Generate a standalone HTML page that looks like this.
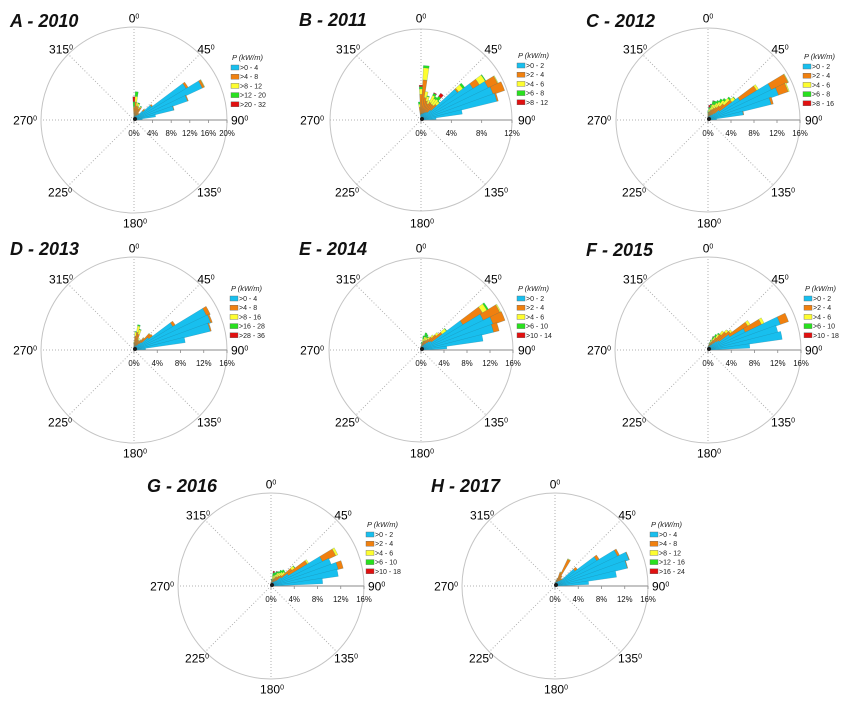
<!DOCTYPE html>
<html lang="en">
<head>
<meta charset="utf-8">
<title>Wave power roses 2010-2017</title>
<style>
html,body{margin:0;padding:0;background:#fff;}
body{width:850px;height:702px;overflow:hidden;}
svg{display:block;font-family:"Liberation Sans",sans-serif;}
</style>
</head>
<body>
<svg id="figure" xmlns="http://www.w3.org/2000/svg" width="850" height="702" viewBox="0 0 850 702"></svg>
<script>
// Direction bins (degrees clockwise from north)
const directions = [354.375,0,5.625,11.25,16.875,22.5,28.125,33.75,39.375,45,50.625,56.25,61.875,67.5,73.125,78.75,84.375];

// Radial tick labels (percent of occurrences)
const ticksA = [0,4,8,12,16,20];
const ticksB = [0,4,8,12];
const ticks16 = [0,4,8,12,16];

// Compass labels
const compassLabels = [0,45,90,135,180,225,270,315];

// Titles
const chartTitles = ["A - 2010","B - 2011","C - 2012","D - 2013","E - 2014","F - 2015","G - 2016","H - 2017"];

// Legend classes
const legendA = [">0 - 4",">4 - 8",">8 - 12",">12 - 20",">20 - 32"];
const legendB = [">0 - 2",">2 - 4",">4 - 6",">6 - 8",">8 - 12"];
const legendC = [">0 - 2",">2 - 4",">4 - 6",">6 - 8",">8 - 16"];
const legendD = [">0 - 4",">4 - 8",">8 - 16",">16 - 28",">28 - 36"];
const legendE = [">0 - 2",">2 - 4",">4 - 6",">6 - 10",">10 - 14"];
const legendF = [">0 - 2",">2 - 4",">4 - 6",">6 - 10",">10 - 18"];
const legendG = [">0 - 2",">2 - 4",">4 - 6",">6 - 10",">10 - 18"];
const legendH = [">0 - 4",">4 - 8",">8 - 12",">12 - 16",">16 - 24"];

// Series values: one row per power class, one column per direction bin
const seriesA = [
 [0,.5,.6,.7,.8,.9,1,1.2,1.5,2.6,4.7,13.1,16.2,12.2,8.8,4.7,1.8],
 [0,2.2,3.3,2.4,2.2,1.7,2,.5,.3,.5,.3,.5,.5,.2,.1,0,0],
 [0,.2,1.2,.7,.6,.3,.2,0,0,.1,0,0,.1,0,0,0,0],
 [0,1,1,0,.2,0,.1,0,0,0,0,0,0,0,0,0,0],
 [0,1.1,0,0,0,0,0,0,0,0,0,0,0,0,0,0,0]
];
const seriesB = [
 [.6,.7,.8,.8,.9,1,1.1,1.2,1.3,1.8,6,8,9.8,10.1,10.3,5.5,2],
 [1.1,2.7,4.5,2.2,1.7,1.3,1.5,1.3,1.2,1,.2,1,1.4,1.6,.2,0,0],
 [.4,.7,1.6,.8,.6,.5,1,.8,.9,.5,.7,.9,.1,0,0,0,0],
 [.3,.3,.3,0,.1,0,.3,.3,.5,.1,.3,.1,0,0,0,0,0],
 [0,.2,0,0,0,0,.1,0,.5,0,0,0,0,0,0,0,0]
];
const seriesC = [
 [0,.4,.5,.5,.6,.7,.8,1,1.2,1.6,2.5,6.5,12.2,13,11.3,6.2,1.5],
 [0,.6,.9,1,1.2,1.3,1.5,1.6,1.9,2.2,2.7,3.4,3.2,1.8,.4,.1,0],
 [0,.3,.5,.7,1,.9,1,1.1,1.2,1.3,.7,.4,.1,.2,0,0,0],
 [0,.2,.3,.5,.6,.6,.5,.6,.4,.3,.1,0,0,0,0,0,0],
 [0,0,.4,.1,.1,0,0,0,0,0,0,0,0,0,0,0,0]
];
const seriesD = [
 [0,.4,.5,.6,.6,.7,.8,1,1.4,1.8,3.2,7.8,13.8,14,13.5,8.9,2],
 [0,.8,1.9,2.5,2.2,1.2,.9,1,1.2,2,.8,.5,.7,.3,.2,0,0],
 [0,.2,.7,1.1,.8,.3,.1,.1,.1,.1,0,0,0,0,0,0,0],
 [0,0,.1,.2,.1,0,0,0,0,0,0,0,0,0,0,0,0],
 [0,0,0,0,0,0,0,0,0,0,0,0,0,0,0,0,0]
];
const seriesE = [
 [0,.3,.4,.5,.6,.7,.9,1.2,1.6,2,2.3,8.5,12,13.3,13,10.9,4.5],
 [0,.3,.5,.8,1,1,1,1,1.2,1.6,2.3,4,3.2,2.2,1,0,0],
 [0,0,.3,.7,.8,.7,.5,.5,.5,.5,.9,.9,.2,0,0,0,0],
 [0,0,.2,.5,.7,.5,.2,0,0,0,.1,.3,0,0,0,0,0],
 [0,0,0,0,0,0,0,0,0,0,0,0,0,0,0,0,0]
];
const seriesF = [
 [0,.3,.4,.5,.6,.7,.9,1.1,1.5,2,2.4,4.4,7.1,13.2,12.4,12.9,7.2],
 [0,.2,.3,.5,.6,.8,1,1.4,1.9,2.2,2.4,3.6,3.1,1.5,0,0,0],
 [0,0,.1,.2,.4,.5,.6,.7,.7,.5,.4,.5,.5,0,0,0,0],
 [0,0,0,.1,.2,.4,.5,.2,0,0,0,0,0,0,0,0,0],
 [0,0,0,0,0,.1,0,0,0,0,0,0,0,0,0,0,0]
];
const seriesG = [
 [0,.3,.4,.5,.5,.6,.7,.8,1,1.3,2.2,3.5,9.8,11,11.9,11.7,8.9],
 [0,.1,.3,.6,.7,.8,1,1.1,1.2,1.2,2.3,3.8,2.5,0,.9,0,0],
 [0,0,.2,.6,.7,.7,.8,.8,.8,.8,.6,.3,.4,0,0,0,0],
 [0,0,.3,.6,.5,.5,.3,.5,.5,.1,.1,0,0,0,0,0,0],
 [0,0,0,.3,0,.1,0,0,0,0,0,0,0,0,0,0,0]
];
const seriesH = [
 [0,.2,.4,.5,.6,.7,.8,.9,1.1,1.4,4.3,8.4,11.9,13.5,12.8,10.7,5.8],
 [0,.1,.2,.5,.8,1.8,4.3,1.2,.5,.4,.5,.5,.4,.1,.1,0,0],
 [0,0,0,0,0,.1,.1,0,0,0,0,0,0,0,0,0,0],
 [0,0,0,0,0,0,0,0,0,0,0,0,0,0,0,0,0],
 [0,0,0,0,0,0,0,0,0,0,0,0,0,0,0,0,0]
];

const classColors = ["#18bfee","#f0800f","#fdfd30","#28e01e","#e01010"];
const NS = "http://www.w3.org/2000/svg";
const BIN_WIDTH = 6.2;
const figure = document.getElementById("figure");

function make(parent, tag, attrs, text) {
  const el = document.createElementNS(NS, tag);
  for (const k in attrs) el.setAttribute(k, attrs[k]);
  if (text !== undefined) el.textContent = text;
  parent.appendChild(el);
  return el;
}

function polar(cx, cy, deg, r) {
  const a = deg * Math.PI / 180;
  return [cx + r * Math.sin(a), cy - r * Math.cos(a)];
}

function wedgePath(cx, cy, deg, r0, r1) {
  const a0 = deg - BIN_WIDTH / 2, a1 = deg + BIN_WIDTH / 2;
  const p1 = polar(cx, cy, a0, r0), p2 = polar(cx, cy, a0, r1);
  const p3 = polar(cx, cy, a1, r1), p4 = polar(cx, cy, a1, r0);
  return "M" + p1[0].toFixed(2) + " " + p1[1].toFixed(2) +
    "L" + p2[0].toFixed(2) + " " + p2[1].toFixed(2) +
    "A" + r1.toFixed(2) + " " + r1.toFixed(2) + " 0 0 1 " + p3[0].toFixed(2) + " " + p3[1].toFixed(2) +
    "L" + p4[0].toFixed(2) + " " + p4[1].toFixed(2) +
    "A" + r0.toFixed(2) + " " + r0.toFixed(2) + " 0 0 0 " + p1[0].toFixed(2) + " " + p1[1].toFixed(2) + "Z";
}

// offsets of compass labels from the rose centre
const compassOffsets = {
  0:[0,-102,"middle"], 45:[72,-71,"middle"], 90:[97,0,"start"], 135:[75,72,"middle"],
  180:[1,103,"middle"], 225:[-74,72,"middle"], 270:[-97,0,"end"], 315:[-73,-71,"middle"]
};

function drawRose(spec) {
  const g = make(figure, "g", {});
  
  
  const cx = spec.cx, cy = spec.cy, R = spec.r;
  const maxVal = spec.ticks[spec.ticks.length - 1];
  const rScale = function (v) { return v / maxVal * R; };

  const title = make(g, "text", {x: spec.tx, y: spec.ty, "font-size": 18, "font-weight": "bold", "font-style": "italic", fill: "#111"}, spec.title);
  
  

  const ring = make(g, "circle", {cx: cx, cy: cy, r: R, fill: "none", stroke: "#c4c4c4", "stroke-width": 1});
  
  

  compassLabels.forEach(function (deg) {
    if (deg !== 90) {
      const e = polar(cx, cy, deg, R);
      const spoke = make(g, "line", {x1: cx, y1: cy, x2: e[0], y2: e[1], stroke: "#b0b0b0", "stroke-width": 1, "stroke-dasharray": "1 2"});
      
      
    }
    const o = compassOffsets[deg];
    const label = make(g, "text", {x: cx + o[0], y: cy + o[1] + 4.5, "font-size": 12, "text-anchor": o[2], fill: "#000"});
    
    
    make(label, "tspan", {}, String(deg));
    make(label, "tspan", {"font-size": 7, dy: -4}, "0");
  });

  const axis = make(g, "line", {x1: cx, y1: cy, x2: cx + R, y2: cy, stroke: "#8a8a8a", "stroke-width": 1});
  
  

  spec.ticks.forEach(function (t) {
    const x = cx + rScale(t);
    const tick = make(g, "line", {x1: x, y1: cy, x2: x, y2: cy + 3, stroke: "#8a8a8a", "stroke-width": 0.8});
    
    
    const tl = make(g, "text", {x: x, y: cy + 16, "font-size": 7.8, "text-anchor": "middle", fill: "#111"}, t + "%");
    
    
  });

  directions.forEach(function (deg, i) {
    let acc = 0;
    spec.series.forEach(function (row, c) {
      const v = row[i];
      if (v <= 0) return;
      const path = make(g, "path", {d: wedgePath(cx, cy, deg, rScale(acc), rScale(acc + v)), fill: classColors[c], stroke: "#1f6f88", "stroke-width": 0.2});
      
      
      acc += v;
    });
  });

  const hub = make(g, "circle", {cx: cx + 1, cy: cy - 1, r: 2, fill: "#1a1a1a"});
  
  

  const lg = make(g, "g", {});
  
  
  const lt = make(lg, "text", {x: spec.lx + 1, y: spec.ly, "font-size": 7.5, "font-style": "italic", fill: "#222"}, "P (kW/m)");
  
  
  spec.legend.forEach(function (txt, i) {
    const y = spec.ly + 5 + i * 9.2;
    const sw = make(lg, "rect", {x: spec.lx, y: y, width: 8, height: 5, fill: classColors[i], stroke: "#666", "stroke-width": 0.4});
    
    
    const t = make(lg, "text", {x: spec.lx + 9, y: y + 5, "font-size": 7, fill: "#222"}, txt);
    
    
  });
}

drawRose({title: chartTitles[0], tx: 10, ty: 27, cx: 134, cy: 120, r: 93, ticks: ticksA, series: seriesA, legend: legendA, lx: 231, ly: 60});
drawRose({title: chartTitles[1], tx: 299, ty: 26, cx: 421, cy: 120, r: 91, ticks: ticksB, series: seriesB, legend: legendB, lx: 517, ly: 58});
drawRose({title: chartTitles[2], tx: 586, ty: 27, cx: 708, cy: 120, r: 92, ticks: ticks16, series: seriesC, legend: legendC, lx: 803, ly: 59});
drawRose({title: chartTitles[3], tx: 10, ty: 255, cx: 134, cy: 350, r: 93, ticks: ticks16, series: seriesD, legend: legendD, lx: 230, ly: 291});
drawRose({title: chartTitles[4], tx: 299, ty: 255, cx: 421, cy: 350, r: 92, ticks: ticks16, series: seriesE, legend: legendE, lx: 517, ly: 291});
drawRose({title: chartTitles[5], tx: 586, ty: 256, cx: 708, cy: 350, r: 93, ticks: ticks16, series: seriesF, legend: legendF, lx: 804, ly: 291});
drawRose({title: chartTitles[6], tx: 147, ty: 492, cx: 271, cy: 586, r: 93, ticks: ticks16, series: seriesG, legend: legendG, lx: 366, ly: 527});
drawRose({title: chartTitles[7], tx: 431, ty: 492, cx: 555, cy: 586, r: 93, ticks: ticks16, series: seriesH, legend: legendH, lx: 650, ly: 527});
</script>
</body>
</html>
